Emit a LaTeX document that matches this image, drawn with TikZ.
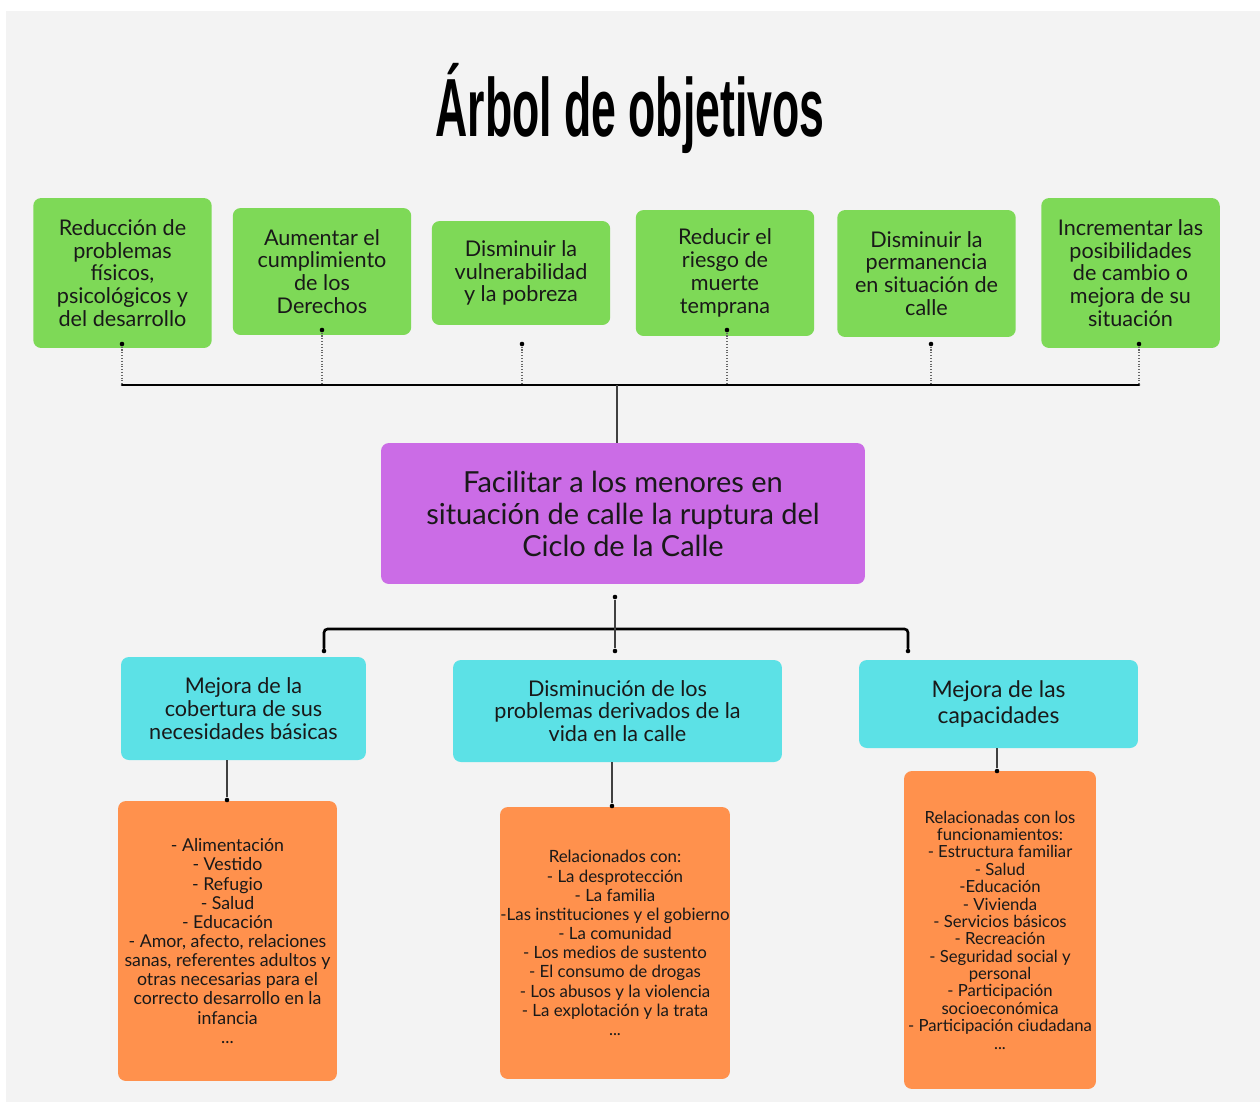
\documentclass[tikz,border=0pt]{standalone}
\usepackage{fontspec}
\setmainfont{Lato}
\newfontfamily\titlefont{Liberation Sans}
\definecolor{paper}{HTML}{F3F3F3}
\definecolor{goalgreen}{HTML}{7ED957}
\definecolor{aimpurple}{HTML}{CB6CE6}
\definecolor{meanscyan}{HTML}{5CE1E6}
\definecolor{actorange}{HTML}{FF914D}

\begin{document}
\begin{tikzpicture}[x=0.02cm, y=-0.02cm,
        box/.style={rounded corners=4.5pt, align=center, inner sep=2pt, text=black!90},
        goal/.style={box, fill=goalgreen, minimum width=3.57cm, font=\fontsize{12.3}{13}\selectfont},
        aim/.style={box, fill=aimpurple, minimum width=9.68cm, minimum height=2.82cm, font=\fontsize{16.5}{18.2}\selectfont},
        means/.style={box, fill=meanscyan, font=\fontsize{12.3}{13}\selectfont},
        act/.style={box, fill=actorange, font=\fontsize{10.1}{10.9}\selectfont},
        dot/.style={circle, fill=black, inner sep=0pt, minimum size=2.6pt},
        bus/.style={line width=1.5pt, line cap=round, rounded corners=2pt},
        link/.style={black!75, line width=0.6pt},
        leg/.style={black!60, densely dotted, line width=0.6pt}]
    \useasboundingbox (0,0) rectangle (1260,1102);
    \fill[paper] (6,11) rectangle (1260,1102);

    \node[font=\titlefont\bfseries\fontsize{47}{50}\selectfont] (title) at (630,108) {\scalebox{0.54}[1]{Árbol de objetivos}};

    \node[goal, minimum height=3.0cm] (g1) at (122.5,273) {Reducción de\\problemas\\físicos,\\psicológicos y\\del desarrollo};
    \node[goal, minimum height=2.54cm] (g2) at (322,271.5) {Aumentar el\\cumplimiento\\de los\\Derechos};
    \node[goal, minimum height=2.08cm] (g3) at (521,273) {Disminuir la\\vulnerabilidad\\y la pobreza};
    \node[goal, minimum height=2.52cm] (g4) at (725,273) {Reducir el\\riesgo de\\muerte\\temprana};
    \node[goal, minimum height=2.54cm] (g5) at (926.5,273.5) {Disminuir la\\permanencia\\en situación de\\calle};
    \node[goal, minimum height=3.0cm] (g6) at (1130.5,273) {Incrementar las\\posibilidades\\de cambio o\\mejora de su\\situación};

    \node[aim] (aim) at (623,513.5) {Facilitar a los menores en\\situación de calle la ruptura del\\Ciclo de la Calle};

    \node[means, minimum width=4.9cm, minimum height=2.06cm] (m1) at (243.5,708.5) {Mejora de la\\cobertura de sus\\necesidades básicas};
    \node[means, minimum width=6.58cm, minimum height=2.04cm] (m2) at (617.5,711) {Disminución de los\\problemas derivados de la\\vida en la calle};
    \node[means, minimum width=5.58cm, minimum height=1.76cm, font=\fontsize{13}{14.8}\selectfont] (m3) at (998.5,704) {Mejora de las\\capacidades};

    \node[act, minimum width=4.38cm, minimum height=5.6cm] (a1) at (227.5,941) {- Alimentación\\- Vestido\\- Refugio\\- Salud\\- Educación\\- Amor, afecto, relaciones\\sanas, referentes adultos y\\otras necesarias para el\\correcto desarrollo en la\\infancia\\...};
    \node[act, minimum width=4.6cm, minimum height=5.44cm, inner xsep=0pt, font=\fontsize{9.6}{10.9}\selectfont] (a2) at (615,943) {Relacionados con:\\- La desprotección\\- La familia\\-Las instituciones y el gobierno\\- La comunidad\\- Los medios de sustento\\- El consumo de drogas\\- Los abusos y la violencia\\- La explotación y la trata\\...};
    \node[act, minimum width=3.84cm, minimum height=6.36cm, font=\fontsize{9.5}{9.9}\selectfont] (a3) at (1000,930) {Relacionadas con los\\funcionamientos:\\- Estructura familiar\\- Salud\\-Educación\\- Vivienda\\- Servicios básicos\\- Recreación\\- Seguridad social y\\personal\\- Participación\\socioeconómica\\- Participación ciudadana\\...};

    \node[dot] (d1) at (122,344) {};
    \node[dot] (d2) at (322,330) {};
    \node[dot] (d3) at (522,344) {};
    \node[dot] (d4) at (727,330) {};
    \node[dot] (d5) at (931,344) {};
    \node[dot] (d6) at (1139,344) {};
    \coordinate (top) at (617,385);
    \foreach \i in {1,...,6} \draw[leg] (d\i) -- (d\i |- top);
    \draw[bus] (d1 |- top) -- (d6 |- top);
    \draw[link] (top) -- (top |- aim.north);

    \node[dot] (hub) at (615,597) {};
    \node[dot] (e1) at (324,651) {};
    \node[dot] (e2) at (615,651) {};
    \node[dot] (e3) at (908,651) {};
    \coordinate (low) at (615,629);
    \draw[bus] (e1) -- (e1 |- low) -- (e3 |- low) -- (e3);
    \draw[link] (hub) -- (e2);

    \node[dot] (f1) at (227,800) {};
    \node[dot] (f2) at (612,806) {};
    \node[dot] (f3) at (997,771) {};
    \draw[link] (f1 |- m1.south) -- (f1);
    \draw[link] (f2 |- m2.south) -- (f2);
    \draw[link] (f3 |- m3.south) -- (f3);
\end{tikzpicture}
\end{document}
